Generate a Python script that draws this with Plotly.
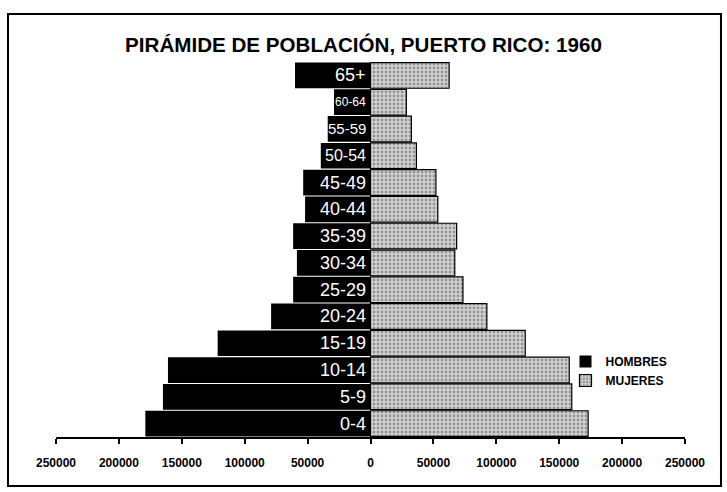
import plotly.graph_objects as go

age_groups = ["0-4", "5-9", "10-14", "15-19", "20-24", "25-29", "30-34",
              "35-39", "40-44", "45-49", "50-54", "55-59", "60-64", "65+"]
hombres = [179000, 165000, 161000, 121500, 79000, 61500, 58500,
           61500, 52000, 53500, 39500, 34000, 29000, 60000]
mujeres = [173000, 160000, 158000, 123000, 92500, 73500, 67000,
           68500, 53500, 52000, 36500, 32500, 28500, 62500]
tick_values = [-250000, -200000, -150000, -100000, -50000, 0,
               50000, 100000, 150000, 200000, 250000]
# smaller label sizes where the men's bar is narrow
label_sizes = {"50-54": 16, "55-59": 15, "60-64": 12}

font_family = "Liberation Sans, Arial, sans-serif"

fig = go.Figure()
fig.add_trace(go.Bar(
    y=age_groups, x=[-v for v in hombres], orientation="h", name="<b>HOMBRES</b>",
    marker=dict(color="black", line=dict(color="black", width=0)),
    hoverinfo="x+y",
))
fig.add_trace(go.Bar(
    y=age_groups, x=mujeres, orientation="h", name="<b>MUJERES</b>",
    marker=dict(color="#cccccc", line=dict(color="black", width=1.2),
                pattern=dict(shape=".", fgcolor="#555555", bgcolor="#d2d2d2",
                             size=4, solidity=0.4)),
    hoverinfo="x+y",
))

# age labels in white, right-aligned against zero on the men's bars
for age in age_groups:
    fig.add_annotation(x=0, y=age, text=age, showarrow=False,
                       xanchor="right", xshift=-3, yanchor="middle",
                       font=dict(color="white", size=label_sizes.get(age, 18)))

fig.update_layout(
    width=727, height=492,
    barmode="relative", bargap=0.04,
    paper_bgcolor="white", plot_bgcolor="white",
    margin=dict(l=56, r=42, t=62, b=55),
    font=dict(family=font_family, color="black"),
    title=dict(text="<b>PIRÁMIDE DE POBLACIÓN, PUERTO RICO: 1960</b>",
               x=0.5, xanchor="center", y=0.908, yanchor="middle",
               font=dict(size=20.6, color="black")),
    xaxis=dict(range=[-250000, 250000], tickvals=tick_values,
               ticktext=["<b>%d</b>" % abs(v) for v in tick_values],
               tickfont=dict(size=12), showgrid=False, zeroline=False,
               showline=True, linecolor="black", linewidth=1.5,
               ticks="outside", ticklen=5, tickcolor="black", tickwidth=1.5,
               ticklabelstandoff=9),
    yaxis=dict(showticklabels=False, showgrid=False, zeroline=False,
               showline=False),
    legend=dict(x=0.81, y=0.24, xanchor="left", yanchor="top",
                font=dict(size=12), bgcolor="rgba(0,0,0,0)",
                itemwidth=30, tracegroupgap=2, traceorder="normal"),
    showlegend=True,
)

# outer frame around the chart
fig.add_shape(type="rect", xref="paper", yref="paper",
              x0=-0.0763, x1=1.0572, y0=-0.1307, y1=1.128,
              line=dict(color="black", width=2))

fig.write_html("out.html", config={"displayModeBar": False},
               post_script="document.body.style.margin='0';")
